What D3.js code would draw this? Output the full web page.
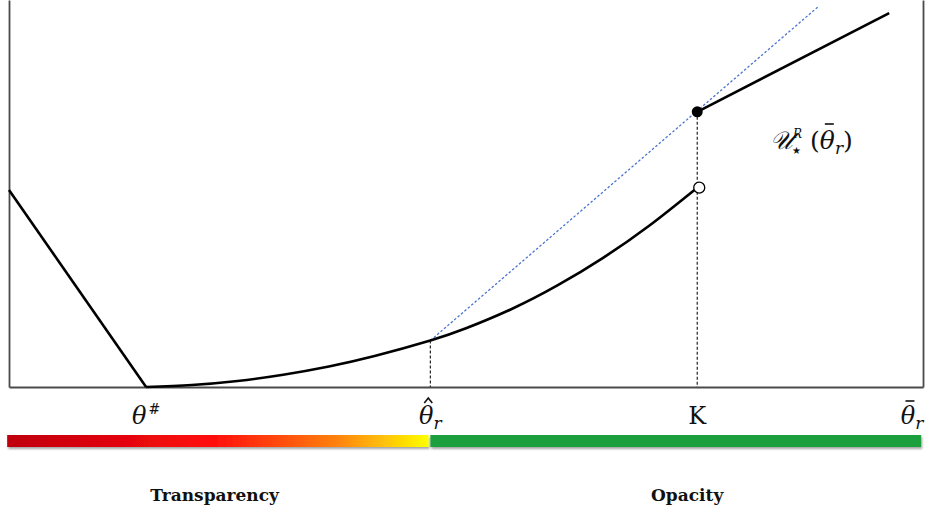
<!DOCTYPE html>
<html>
<head>
<meta charset="utf-8">
<script src="https://cdn.jsdelivr.net/npm/d3@7"></script>
<style>
  body { margin: 0; background: #fff; }
  svg { display: block; }
  .serif { font-family: "DejaVu Serif", "Liberation Serif", serif; }
</style>
</head>
<body>
<script>
// valores (unidades arbitrarias 0..100)
const tramoIzq = [[0, 50.9], [15, 0]];
const tramoBajo = [[15, 0], [20, 0.51], [25, 1.56], [30, 3.16], [35, 5.30], [40, 7.99], [46.1, 12.0]];
const tramoMedio = [[46.1, 12.0], [50, 15.16], [55, 20.15], [60, 26.23], [65, 33.38], [70, 41.6], [75.3, 51.5]];
const tramoAlto = [[75.3, 71.1], [96.3, 96.6]];
const tangente = [[46.1, 12.0], [88.5, 98.2]];
const puntoLleno = [75.3, 71.1];
const puntoVacio = [75.3, 51.5];
const marcasX = [
  { v: 15, base: "θ", sup: "#" },
  { v: 46.1, base: "θ", sub: "r", acento: "sombrero" },
  { v: 75.3, base: "K", recto: true },
  { v: 98.8, base: "θ", sub: "r", acento: "barra" }
];
const zonas = [
  { nombre: "Transparency", desde: -0.2, hasta: 45.9, centro: 22.5 },
  { nombre: "Opacity", desde: 46.1, hasta: 99.8, centro: 74.2 }
];

const ancho = 925, alto = 512;
const svg = d3.select("body").append("svg")
  .attr("width", ancho).attr("height", alto);

const x = d3.scaleLinear().domain([0, 100]).range([9, 923]);
const y = d3.scaleLinear().domain([0, 100]).range([387, 0]);

const defs = svg.append("defs");
const grad = defs.append("linearGradient").attr("id", "grad")
  .attr("x1", "0%").attr("x2", "100%");
[["0%", "#bf0010"], ["48%", "#ff0a0a"], ["78%", "#ff8010"], ["100%", "#ffff00"]]
  .forEach(function(s) { grad.append("stop").attr("offset", s[0]).attr("stop-color", s[1]); });
const sombra = defs.append("filter").attr("id", "sombra")
  .attr("x", "-5%").attr("y", "-50%").attr("width", "110%").attr("height", "220%");
sombra.append("feDropShadow").attr("dx", 1).attr("dy", 2).attr("stdDeviation", 1.2)
  .attr("flood-color", "#000").attr("flood-opacity", 0.35);

// marco
function marco(eje, tx, ty) {
  const g = svg.append("g").attr("transform", "translate(" + tx + "," + ty + ")")
    .call(eje.tickValues([]).tickSizeOuter(0));
  g.select(".domain").attr("stroke", "#4a4a4a").attr("stroke-width", 1.8);
}
marco(d3.axisBottom(x), 0, y(0));
marco(d3.axisLeft(y), x(0), 0);
marco(d3.axisRight(y), x(100), 0);

// guías punteadas
[[46.1, 12.0], puntoLleno].forEach(function(p) {
  svg.append("line")
    .attr("x1", x(p[0])).attr("x2", x(p[0]))
    .attr("y1", y(p[1])).attr("y2", y(0))
    .attr("stroke", "#222").attr("stroke-width", 1.2)
    .attr("stroke-dasharray", "3,2");
});

const linea = d3.line().x(function(d) { return x(d[0]); }).y(function(d) { return y(d[1]); });
const curva = d3.line().curve(d3.curveNatural)
  .x(function(d) { return x(d[0]); }).y(function(d) { return y(d[1]); });

svg.append("path").datum(tangente).attr("d", linea)
  .attr("fill", "none").attr("stroke", "#4a74d0").attr("stroke-width", 1.3)
  .attr("stroke-dasharray", "2.5,2");

[tramoIzq, tramoAlto].forEach(function(t) {
  svg.append("path").datum(t).attr("d", linea)
    .attr("fill", "none").attr("stroke", "#000").attr("stroke-width", 2.6);
});
svg.append("path").datum(tramoBajo.concat(tramoMedio.slice(1))).attr("d", curva)
  .attr("fill", "none").attr("stroke", "#000").attr("stroke-width", 2.6);

svg.append("circle").attr("cx", x(puntoLleno[0])).attr("cy", y(puntoLleno[1])).attr("r", 5.5)
  .attr("fill", "#000");
svg.append("circle").attr("cx", x(puntoVacio[0]) + 2).attr("cy", y(puntoVacio[1])).attr("r", 5.5)
  .attr("fill", "#fff").attr("stroke", "#000").attr("stroke-width", 1.3);

// acento dibujado sobre el primer carácter de un tspan
function acento(tspan, tipo, base) {
  const r = tspan.node().getExtentOfChar(0);
  const cx = r.x + r.width / 2 + 2;
  const p = tipo === "sombrero"
    ? "M" + (cx - 4) + "," + base + "L" + cx + "," + (base - 5) + "L" + (cx + 4) + "," + base
    : "M" + (cx - 4.5) + "," + (base - 2) + "L" + (cx + 4.5) + "," + (base - 2);
  svg.append("path").attr("d", p).attr("fill", "none")
    .attr("stroke", "#111").attr("stroke-width", 1.6);
}

// etiqueta de la función
const etq = svg.append("text").attr("class", "serif")
  .attr("x", 770).attr("y", 149).attr("font-size", 25).attr("fill", "#111");
etq.append("tspan").attr("font-style", "italic").text("𝒰");
etq.append("tspan").attr("font-size", 12).attr("font-style", "italic").attr("dy", -11).text("R");
etq.append("tspan").attr("font-size", 10).attr("dx", -10).attr("dy", 16).text("★");
etq.append("tspan").attr("dx", 9).attr("dy", -5).text("(");
const thetaEtq = etq.append("tspan").attr("font-style", "italic").text("θ");
etq.append("tspan").attr("font-style", "italic").attr("font-size", 17).attr("dy", 5).text("r");
etq.append("tspan").attr("dy", -5).text(")");
acento(thetaEtq, "barra", 126);

// etiquetas del eje x
marcasX.forEach(function(m) {
  const t = svg.append("text").attr("class", "serif")
    .attr("x", x(m.v)).attr("y", 424).attr("text-anchor", "middle")
    .attr("font-size", 24).attr("fill", "#111");
  const b = t.append("tspan").attr("font-style", m.recto ? "normal" : "italic").text(m.base);
  if (m.sup) t.append("tspan").attr("font-size", 14).attr("dy", -10).attr("dx", 2).text(m.sup);
  if (m.sub) t.append("tspan").attr("font-style", "italic").attr("font-size", 17).attr("dy", 5).text(m.sub);
  if (m.acento) acento(b, m.acento, 403);
});

// barra de zonas
const colores = ["url(#grad)", "#1a9f3c"];
svg.selectAll("rect.zona").data(zonas).enter().append("rect")
  .attr("class", "zona")
  .attr("x", function(d) { return x(d.desde); })
  .attr("width", function(d) { return x(d.hasta) - x(d.desde); })
  .attr("y", 435).attr("height", 12)
  .attr("fill", function(d, i) { return colores[i]; })
  .attr("filter", "url(#sombra)");

svg.selectAll("text.zona").data(zonas).enter().append("text")
  .attr("class", "zona serif")
  .attr("x", function(d) { return x(d.centro); }).attr("y", 501)
  .attr("text-anchor", "middle").attr("font-weight", "bold").attr("font-size", 17)
  .attr("fill", "#111")
  .text(function(d) { return d.nombre; });
</script>
</body>
</html>
